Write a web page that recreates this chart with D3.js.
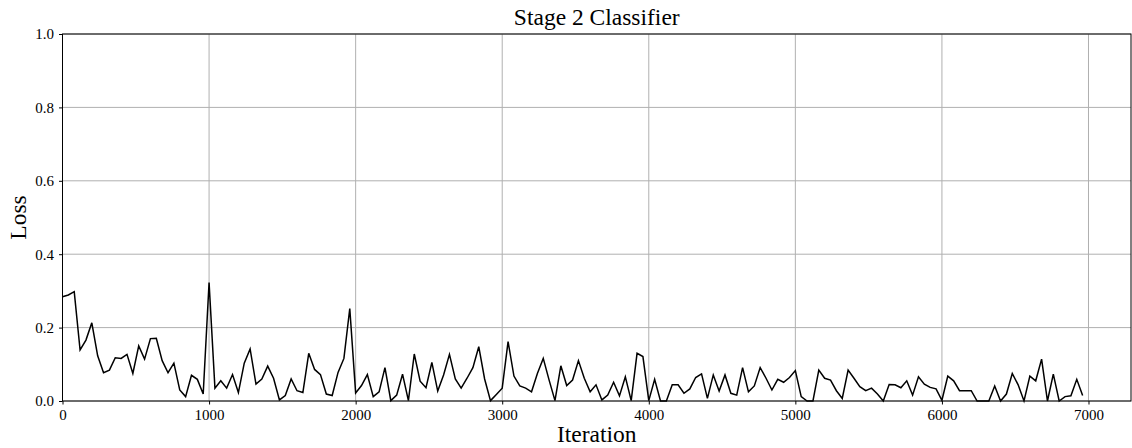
<!DOCTYPE html>
<html>
<head>
<meta charset="utf-8">
<script src="https://cdn.jsdelivr.net/npm/d3@7"></script>
<style>
  html, body { margin: 0; padding: 0; background: #fff; }
  svg { display: block; }
  text { font-family: "Liberation Serif", "Times New Roman", serif; fill: #000; }
</style>
</head>
<body>
<div id="chart"></div>
<script>
// loss logged every 40 iterations
var step = 40;
var loss = [
  0.284, 0.289, 0.298, 0.139, 0.166, 0.213, 0.123, 0.077, 0.084, 0.118,
  0.116, 0.127, 0.075, 0.150, 0.114, 0.170, 0.171, 0.110, 0.077, 0.103,
  0.030, 0.012, 0.070, 0.059, 0.019, 0.323, 0.035, 0.055, 0.035, 0.072,
  0.023, 0.103, 0.142, 0.046, 0.060, 0.095, 0.062, 0.003, 0.015, 0.060,
  0.028, 0.023, 0.130, 0.086, 0.072, 0.019, 0.015, 0.078, 0.116, 0.252,
  0.022, 0.042, 0.072, 0.012, 0.025, 0.091, 0.001, 0.016, 0.073, 0.001,
  0.128, 0.054, 0.036, 0.105, 0.027, 0.071, 0.127, 0.060, 0.035, 0.062,
  0.091, 0.148, 0.060, 0.001, 0.018, 0.035, 0.162, 0.068, 0.041, 0.035,
  0.025, 0.075, 0.116, 0.057, 0.001, 0.096, 0.042, 0.057, 0.110, 0.062,
  0.025, 0.044, 0.003, 0.016, 0.051, 0.014, 0.066, 0.001, 0.130, 0.121,
  0.001, 0.059, 0.000, 0.000, 0.044, 0.044, 0.021, 0.033, 0.064, 0.074,
  0.007, 0.071, 0.027, 0.071, 0.021, 0.016, 0.091, 0.025, 0.041, 0.091,
  0.062, 0.030, 0.059, 0.051, 0.064, 0.083, 0.012, 0.000, 0.000, 0.084,
  0.062, 0.057, 0.028, 0.007, 0.084, 0.062, 0.039, 0.028, 0.035, 0.019,
  0.000, 0.045, 0.044, 0.036, 0.055, 0.016, 0.066, 0.046, 0.037, 0.033,
  0.002, 0.068, 0.055, 0.028, 0.028, 0.028, 0.000, 0.000, 0.000, 0.041,
  0.000, 0.019, 0.075, 0.044, 0.000, 0.068, 0.055, 0.114, 0.000, 0.073,
  0.000, 0.012, 0.014, 0.059, 0.015
];
var xTicks = [0, 1000, 2000, 3000, 4000, 5000, 6000, 7000];
var yTicks = [0.0, 0.2, 0.4, 0.6, 0.8, 1.0];

var W = 1132, H = 448,
  m = {top: 34, right: 1, left: 62.5, bottom: 47};

var svg = d3.select('#chart').append('svg')
  .attr('width', W).attr('height', H);

var x = d3.scaleLinear().domain([0, 7290]).range([m.left, W - m.right]),
  y = d3.scaleLinear().domain([0, 1]).range([H - m.bottom, m.top]);

// grid
var grid = svg.append('g').attr('stroke', '#b0b0b0').attr('stroke-width', 1);
grid.selectAll('.gx').data(xTicks).join('line')
  .attr('x1', function(d){ return x(d); }).attr('x2', function(d){ return x(d); })
  .attr('y1', y(0)).attr('y2', y(1));
grid.selectAll('.gy').data(yTicks).join('line')
  .attr('x1', x.range()[0]).attr('x2', x.range()[1])
  .attr('y1', function(d){ return y(d); }).attr('y2', function(d){ return y(d); });

// line
var line = d3.line()
  .x(function(d, i){ return x(i * step); })
  .y(function(d){ return y(d); });
svg.append('path').datum(loss)
  .attr('fill', 'none').attr('stroke', '#000').attr('stroke-width', 1.5)
  .attr('stroke-linejoin', 'miter')
  .attr('d', line);

// axes
var xAxis = svg.append('g').attr('transform', 'translate(0,' + y(0) + ')')
  .call(d3.axisBottom(x).tickValues(xTicks).tickFormat(d3.format('d')).tickSizeOuter(0).tickSize(3.5).tickPadding(5));
var yAxis = svg.append('g').attr('transform', 'translate(' + x(0) + ',0)')
  .call(d3.axisLeft(y).tickValues(yTicks).tickFormat(d3.format('.1f')).tickSizeOuter(0).tickSize(3.5).tickPadding(5));
[xAxis, yAxis].forEach(function(a){
  a.select('.domain').remove();
  a.selectAll('line').attr('stroke', '#000').attr('stroke-width', 1);
  a.selectAll('text').attr('font-family', '"Liberation Serif", serif').attr('font-size', 15).attr('fill', '#000');
});

// frame
svg.append('rect')
  .attr('x', x.range()[0]).attr('y', y(1))
  .attr('width', x.range()[1] - x.range()[0]).attr('height', y(0) - y(1))
  .attr('fill', 'none').attr('stroke', '#000').attr('stroke-width', 1);

// labels
svg.append('text').attr('x', (x.range()[0] + x.range()[1]) / 2).attr('y', 25)
  .attr('text-anchor', 'middle').attr('font-size', 23.5).text('Stage 2 Classifier');
svg.append('text').attr('x', (x.range()[0] + x.range()[1]) / 2).attr('y', 442)
  .attr('text-anchor', 'middle').attr('font-size', 23.5).text('Iteration');
svg.append('text').attr('transform', 'translate(26,' + (y(0.5)) + ') rotate(-90)')
  .attr('text-anchor', 'middle').attr('font-size', 23.5).text('Loss');
</script>
</body>
</html>
